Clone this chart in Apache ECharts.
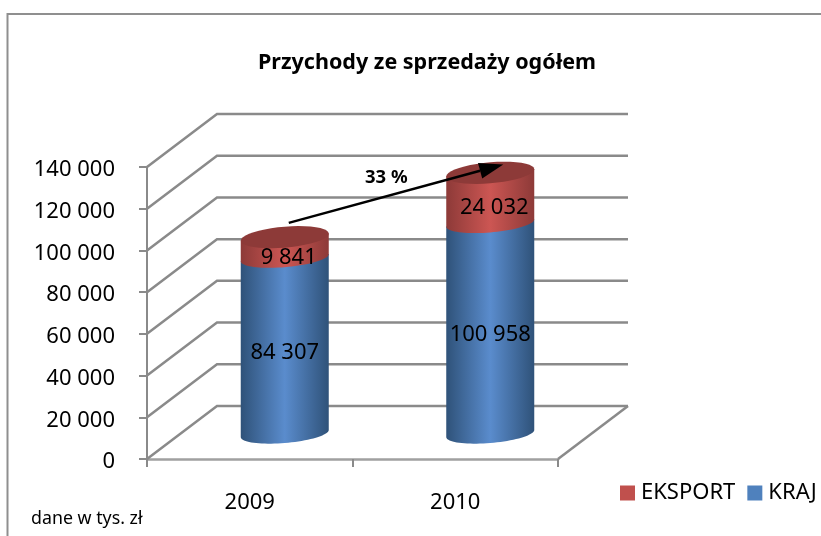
<!DOCTYPE html>
<html>
<head>
<meta charset="utf-8">
<style>
  html, body { margin: 0; padding: 0; background: #fff; }
  #chart { width: 821px; height: 536px; }
</style>
<script src="https://cdn.jsdelivr.net/npm/echarts@6/dist/echarts.min.js"></script>
</head>
<body>
<div id="chart"></div>
<script>
const categories = ['2009', '2010']
const kraj = [84307, 100958]
const eksport = [9841, 24032]
const yTicks = [0, 20000, 40000, 60000, 80000, 100000, 120000, 140000]
// arrow from above the 2009 column to the top of the 2010 column
const arrowFrom = [0, 101000]
const arrowTo = [1, 129000]

const FONT = '"Noto Sans", sans-serif'
const GRID_COLOR = '#8a8a8a'
const DEPTH_X = 70
const DEPTH_Y = 53
const RADIUS_X = 44
const SHEAR = -3.6 / 44

const formatNumber = (v) => String(v).replace(/\B(?=(\d{3})+$)/g, ' ')

const shade = (edge, mid) =>
  new echarts.graphic.LinearGradient(0, 0, 1, 0, [
    { offset: 0, color: edge },
    { offset: 0.5, color: mid },
    { offset: 1, color: edge },
  ])

// half of a tilted ellipse, from the right end to the left end
const arc = (cx, cy, ry, from, to) => {
  const points = []
  for (let i = 0; i <= 40; i++) {
    const t = from + ((to - from) * i) / 40
    const dx = RADIUS_X * Math.cos(t)
    points.push([cx + dx, cy + ry * Math.sin(t) + SHEAR * dx])
  }
  return points
}

const columnPoint = (api, index, value) => {
  const p = api.coord([index, value])
  return [p[0] + DEPTH_X / 2, p[1] - DEPTH_Y / 2 + 1]
}

const renderWall = (params, api) => {
  const { x, y, width, height } = params.coordSys
  const tickY = api.coord([0, api.value(0)])[1]
  const line = (points) => ({
    type: 'polyline',
    shape: { points },
    style: { stroke: GRID_COLOR, lineWidth: 2.5, fill: null },
  })
  const children = [
    line([
      [x, tickY],
      [x + DEPTH_X, tickY - DEPTH_Y],
      [x + width + DEPTH_X, tickY - DEPTH_Y],
    ]),
  ]
  if (params.dataIndex === 0) {
    children.push(
      line([
        [x + width, y + height],
        [x + width + DEPTH_X, y + height - DEPTH_Y],
      ])
    )
  }
  return { type: 'group', children }
}

const renderSegment = (bases, edge, mid, top, labelShift) => (params, api) => {
  const index = api.value(0)
  const value = api.value(1)
  const base = bases[index]
  const [cx, yBase] = columnPoint(api, index, base)
  const yTop = columnPoint(api, index, base + value)[1]
  const lower = arc(cx, yBase, 9.5, 0, Math.PI)
  const upperEnds = [
    [cx - RADIUS_X, yTop - SHEAR * RADIUS_X],
    [cx + RADIUS_X, yTop + SHEAR * RADIUS_X],
  ]
  const children = [
    {
      type: 'polygon',
      shape: { points: lower.concat(upperEnds) },
      style: { fill: shade(edge, mid) },
    },
  ]
  if (top) {
    children.push({
      type: 'polygon',
      shape: { points: arc(cx, yTop, 10.5, 0, Math.PI * 2) },
      style: { fill: top },
    })
  }
  children.push({
    type: 'text',
    z2: 10,
    style: {
      text: formatNumber(value),
      x: cx + labelShift[0],
      y: (yBase + yTop) / 2 + labelShift[1],
      textAlign: 'center',
      textVerticalAlign: 'middle',
      fill: '#000',
      font: '22px ' + FONT,
    },
  })
  return { type: 'group', children }
}

const renderArrow = (params, api) => {
  const a = columnPoint(api, arrowFrom[0], arrowFrom[1])
  const b = columnPoint(api, arrowTo[0], arrowTo[1])
  const start = [a[0] + 4, a[1]]
  const tip = [b[0] + 13, b[1]]
  const angle = Math.atan2(tip[1] - start[1], tip[0] - start[0])
  const back = [tip[0] - 24 * Math.cos(angle), tip[1] - 24 * Math.sin(angle)]
  const nx = -Math.sin(angle) * 8
  const ny = Math.cos(angle) * 8
  return {
    type: 'group',
    children: [
      {
        type: 'line',
        shape: { x1: start[0], y1: start[1], x2: back[0], y2: back[1] },
        style: { stroke: '#000', lineWidth: 2.5 },
      },
      {
        type: 'polygon',
        shape: { points: [tip, [back[0] + nx, back[1] + ny], [back[0] - nx, back[1] - ny]] },
        style: { fill: '#000' },
      },
    ],
  }
}

const chart = echarts.init(document.getElementById('chart'), null, { renderer: 'canvas' })

const option = {
  animation: false,
  backgroundColor: '#fff',
  title: {
    text: 'Przychody ze sprzedaży ogółem',
    left: 422,
    top: 47,
    textAlign: 'center',
    textStyle: { fontFamily: FONT, fontSize: 21.5, fontWeight: 'bold', color: '#000' },
  },
  legend: {
    left: 620,
    top: 482,
    padding: 0,
    icon: 'rect',
    itemWidth: 15,
    itemHeight: 15,
    itemGap: 12,
    selectedMode: false,
    data: ['EKSPORT', 'KRAJ'],
    textStyle: { fontFamily: FONT, fontSize: 22, color: '#000', padding: [0, 0, 0, 1] },
  },
  grid: { left: 147, top: 167, width: 411, height: 292 },
  xAxis: {
    type: 'category',
    data: categories,
    axisLine: { lineStyle: { color: '#a0a0a0', width: 2.5 } },
    axisTick: { show: true, length: 8, lineStyle: { color: GRID_COLOR, width: 2 } },
    axisLabel: { margin: 33, color: '#000', fontFamily: FONT, fontSize: 22 },
  },
  yAxis: {
    type: 'value',
    min: 0,
    max: 140000,
    interval: 20000,
    splitLine: { show: false },
    axisLine: { show: true, lineStyle: { color: GRID_COLOR, width: 2 } },
    axisTick: { show: true, length: 8, lineStyle: { color: GRID_COLOR, width: 2 } },
    axisLabel: {
      margin: 32,
      formatter: (v) => '{n|' + formatNumber(v) + '}',
      rich: {
        n: { color: '#000', fontFamily: FONT, fontSize: 22, padding: [6, 0, 0, 0] },
      },
    },
  },
  graphic: [
    {
      type: 'polyline',
      shape: { points: [[7.5, 536], [7.5, 14], [821, 14]] },
      style: { stroke: '#8f8f8f', lineWidth: 2, fill: null },
    },
    {
      type: 'text',
      left: 31,
      top: 510,
      style: { text: 'dane w tys. zł', fill: '#000', font: '17.8px ' + FONT },
    },
    {
      type: 'text',
      left: 365,
      top: 168,
      style: { text: '33 %', fill: '#000', font: 'bold 18.5px ' + FONT },
      z: 10,
    },
  ],
  series: [
    {
      type: 'custom',
      name: 'wall',
      coordinateSystem: 'cartesian2d',
      silent: true,
      clip: false,
      renderItem: renderWall,
      encode: { y: 0 },
      data: yTicks.map((v) => [v]),
    },
    {
      type: 'custom',
      name: 'KRAJ',
      clip: false,
      itemStyle: { color: '#4f81bd' },
      renderItem: renderSegment([0, 0], '#2f5279', '#5a8ccd', null, [0, 7]),
      encode: { x: 0, y: 1 },
      data: kraj.map((v, i) => [i, v]),
    },
    {
      type: 'custom',
      name: 'EKSPORT',
      clip: false,
      itemStyle: { color: '#c0504d' },
      renderItem: renderSegment(kraj, '#8d3a38', '#cc5653', '#8d3a38', [4, 10]),
      encode: { x: 0, y: 1 },
      data: eksport.map((v, i) => [i, v]),
    },
    {
      type: 'custom',
      name: 'arrow',
      silent: true,
      clip: false,
      renderItem: renderArrow,
      encode: { x: 0, y: 1 },
      data: [arrowFrom],
    },
  ],
}

chart.setOption(option)
</script>
</body>
</html>
